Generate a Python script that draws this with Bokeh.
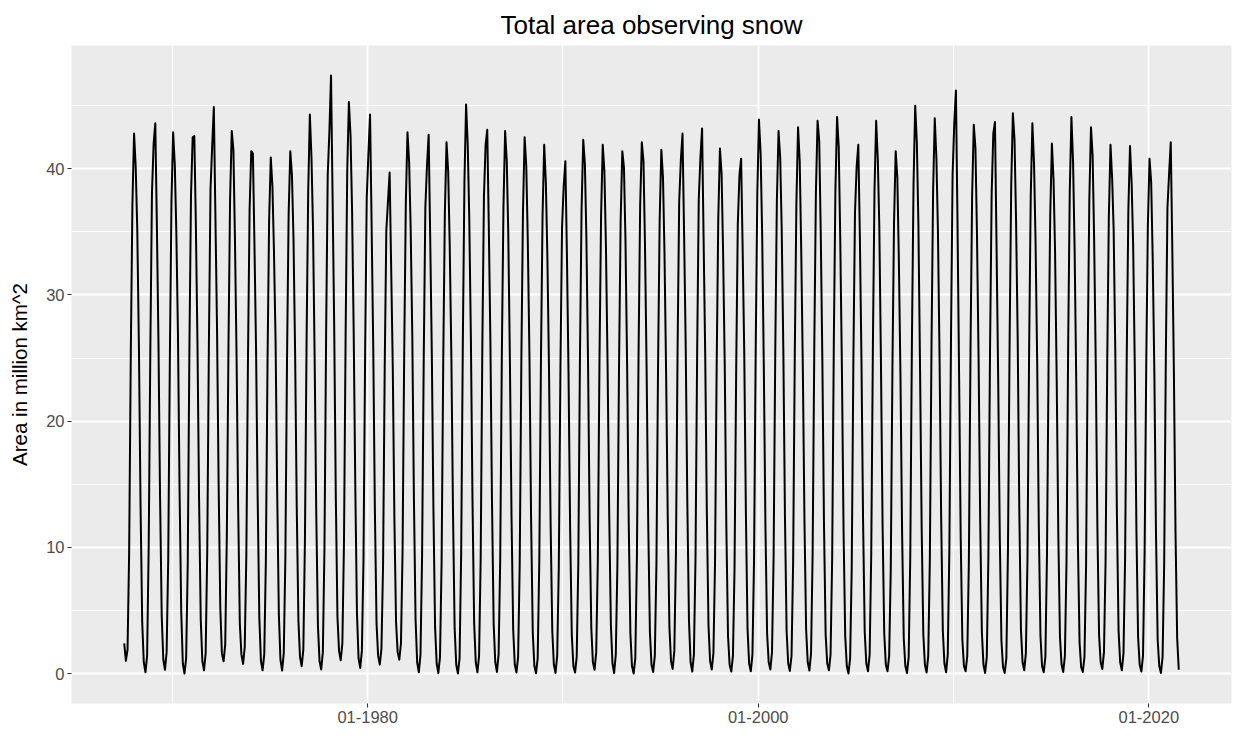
import pandas as pd
from bokeh.plotting import figure
from bokeh.models import ColumnDataSource, Range1d, FixedTicker, DatetimeTickFormatter
from bokeh.embed import file_html
from bokeh.resources import INLINE

# Monthly snow-covered area (million km^2), one entry per calendar year 1967..2021
years = list(range(1967, 2022))

jan = [None, 42.8, 42.0, 42.9, 42.5, 41.8, 43.0, 41.4, 40.9, 41.4, 44.3, 42.9, 45.3, 41.2, 37.4,
       42.9, 40.3, 42.1, 45.1, 41.9, 43.0, 42.5, 41.9, 38.7, 42.3, 41.9, 41.4, 42.1, 41.5, 40.7,
       40.9, 41.6, 39.5, 43.9, 43.0, 43.3, 43.8, 44.1, 40.2, 43.8, 41.4, 45.0, 44.0, 43.6, 43.5,
       42.8, 44.4, 43.6, 42.0, 44.1, 43.3, 41.9, 41.8, 40.8, 39.6]
feb = [None, 40.1, 43.6, 40.3, 42.6, 44.9, 41.5, 41.2, 38.6, 39.5, 40.8, 47.4, 42.6, 44.3, 39.7,
       40.5, 42.7, 39.8, 41.9, 43.1, 40.6, 40.2, 38.9, 40.6, 40.4, 39.8, 40.1, 40.6, 39.3, 42.8,
       43.2, 39.6, 40.8, 41.2, 40.9, 40.6, 42.2, 41.7, 41.9, 40.7, 39.3, 42.1, 40.8, 46.2, 41.6,
       43.7, 42.3, 40.4, 39.1, 40.5, 41.0, 39.2, 38.8, 38.9, 42.1]
mar = [None, 35.2, 36.0, 35.1, 35.8, 36.4, 34.7, 34.2, 33.6, 34.5, 35.3, 38.1, 36.9, 35.6, 32.4,
       35.4, 34.8, 33.9, 36.2, 35.7, 34.9, 34.1, 33.2, 33.5, 34.6, 33.8, 34.4, 34.0, 33.3, 35.0,
       34.6, 33.4, 33.9, 34.8, 35.3, 33.7, 35.1, 34.2, 35.0, 35.4, 32.9, 35.6, 35.2, 36.3, 35.0,
       34.1, 36.1, 34.3, 33.5, 33.6, 34.4, 35.2, 33.9, 32.8, 34.0]
apr = [None, 25.8, 26.4, 26.9, 26.1, 27.3, 25.2, 25.6, 26.3, 25.1, 24.8, 27.6, 27.0, 25.7, 24.2,
       26.8, 25.4, 25.0, 26.5, 26.2, 24.6, 24.9, 24.1, 23.8, 24.7, 24.3, 24.5, 24.0, 23.6, 25.9,
       25.1, 24.4, 25.3, 24.2, 25.6, 24.0, 24.7, 23.9, 24.8, 24.5, 23.4, 24.1, 25.0, 23.7, 24.9,
       23.5, 26.7, 24.6, 23.2, 22.9, 24.3, 25.4, 24.1, 23.6, 23.8]
may = [None, 13.4, 14.1, 14.6, 13.8, 14.9, 13.2, 13.9, 14.4, 13.1, 12.6, 14.2, 14.8, 13.0, 12.3,
       14.0, 13.1, 12.9, 13.7, 13.5, 12.4, 12.2, 11.9, 11.5, 12.1, 12.6, 12.0, 11.8, 12.4, 13.6,
       12.8, 11.6, 12.9, 11.7, 12.5, 12.1, 11.9, 11.4, 12.2, 11.8, 11.2, 11.6, 12.3, 10.8, 12.0,
       10.9, 13.1, 11.7, 11.0, 10.4, 11.5, 12.6, 11.3, 11.1, 11.2]
jun = [None, 4.1, 4.6, 4.9, 4.3, 5.2, 4.0, 4.4, 4.7, 4.2, 3.8, 4.5, 4.8, 4.0, 4.1,
       4.3, 3.7, 3.6, 4.0, 3.9, 3.5, 3.3, 3.4, 3.1, 3.6, 3.9, 3.2, 3.3, 3.7, 4.2,
       3.8, 3.0, 3.6, 3.2, 3.4, 3.5, 3.1, 3.0, 3.3, 3.2, 2.8, 3.1, 3.4, 2.7, 3.3,
       2.6, 3.5, 3.0, 2.9, 2.5, 3.1, 3.4, 2.9, 2.7, 2.8]
jul = [2.4, 0.9, 1.1, 0.8, 1.0, 1.6, 1.5, 1.0, 1.1, 1.3, 1.0, 1.8, 1.2, 1.4, 1.7,
       0.9, 0.8, 0.7, 0.9, 0.9, 0.7, 0.6, 0.7, 0.6, 0.9, 0.8, 0.6, 0.7, 1.0, 0.9,
       1.0, 0.7, 0.8, 0.9, 0.8, 0.9, 0.8, 0.6, 0.8, 0.7, 0.6, 0.7, 0.8, 0.6, 0.7,
       0.5, 0.9, 0.6, 0.7, 0.5, 0.9, 0.9, 0.7, 0.6, 0.3]
aug = [1.0, 0.1, 0.3, 0.0, 0.26, 0.97, 0.77, 0.26, 0.24, 0.58, 0.32, 1.05, 0.45, 0.71, 1.1,
       0.1, 0.05, 0.0, 0.1, 0.13, 0.08, 0.02, 0.05, 0.08, 0.3, 0.05, 0.0, 0.13, 0.37, 0.16,
       0.32, 0.16, 0.18, 0.32, 0.21, 0.24, 0.26, 0.0, 0.18, 0.18, 0.05, 0.08, 0.1, 0.18, 0.05,
       0.05, 0.26, 0.1, 0.13, 0.13, 0.37, 0.26, 0.16, 0.05, None]
sep = [1.9, 1.4, 1.7, 1.2, 1.6, 2.3, 2.1, 1.5, 1.6, 1.9, 1.7, 2.4, 1.8, 2.0, 2.4,
       1.5, 1.3, 1.2, 1.4, 1.5, 1.3, 1.2, 1.4, 1.3, 1.7, 1.5, 1.2, 1.4, 1.8, 1.5,
       1.6, 1.4, 1.5, 1.7, 1.4, 1.6, 1.5, 1.2, 1.5, 1.4, 1.3, 1.4, 1.5, 1.4, 1.3,
       1.2, 1.6, 1.3, 1.4, 1.3, 1.7, 1.6, 1.4, 1.3, None]
oct = [9.6, 10.2, 9.1, 8.7, 9.8, 10.9, 9.4, 8.9, 9.2, 10.6, 9.9, 10.3, 9.0, 8.5, 9.7,
       9.3, 8.8, 9.5, 9.1, 8.9, 8.6, 8.8, 8.4, 8.7, 9.0, 8.5, 9.2, 8.6, 9.4, 9.1,
       8.7, 8.3, 9.0, 9.3, 8.8, 9.6, 9.1, 8.4, 9.5, 8.2, 9.3, 9.0, 9.8, 8.9, 9.2,
       9.7, 9.0, 9.4, 8.8, 8.5, 8.9, 9.1, 9.6, 8.7, None]
nov = [25.4, 26.1, 25.2, 25.7, 26.3, 26.0, 25.1, 24.6, 24.9, 26.5, 26.8, 26.9, 25.5, 24.2, 25.6,
       25.0, 24.8, 26.2, 25.9, 25.3, 24.9, 24.7, 24.3, 25.1, 24.8, 24.5, 25.4, 24.6, 25.8, 25.5,
       24.4, 24.1, 25.7, 25.6, 25.3, 26.0, 26.2, 24.9, 26.1, 24.0, 26.4, 25.9, 26.7, 25.8, 25.7,
       26.3, 25.6, 25.1, 26.0, 25.4, 24.7, 25.2, 24.6, 25.0, None]
dec = [37.2, 38.1, 37.5, 37.9, 38.4, 37.6, 36.8, 35.9, 36.4, 38.2, 39.5, 39.8, 37.7, 35.1, 37.3,
       36.9, 36.5, 38.9, 37.8, 37.0, 36.6, 36.2, 35.4, 36.8, 36.3, 35.9, 37.1, 36.0, 37.4, 37.6,
       36.1, 35.6, 38.0, 37.5, 37.2, 38.1, 38.4, 36.5, 38.3, 35.7, 38.8, 38.2, 39.6, 37.9, 38.0,
       38.7, 37.8, 36.4, 38.1, 37.6, 36.2, 36.7, 35.5, 36.9, None]

x_tick_years = [1980, 2000, 2020]
x_minor_years = [1970, 1990, 2010]
y_ticks = [0, 10, 20, 30, 40]
y_minor = [5, 15, 25, 35, 45]

# Assemble the monthly time series in chronological order
month_cols = [jan, feb, mar, apr, may, jun, jul, aug, sep, oct, nov, dec]
dates, area = [], []
for i, yr in enumerate(years):
    for m, col in enumerate(month_cols, start=1):
        v = col[i]
        if v is not None:
            dates.append(pd.Timestamp(yr, m, 15))
            area.append(v)

source = ColumnDataSource(data=dict(date=dates, area=area))

EPOCH = pd.Timestamp(1970, 1, 1)


def to_ms(ts):
    return (ts - EPOCH) / pd.Timedelta(milliseconds=1)


# ggplot-style 5% expansion of both scales
x0, x1 = to_ms(dates[0]), to_ms(dates[-1])
xpad = 0.05 * (x1 - x0)
y0, y1 = min(area), max(area)
ypad = 0.05 * (y1 - y0)

FONT = "Liberation Sans"

p = figure(
    width=1240, height=736,
    x_axis_type="datetime",
    x_range=Range1d(x0 - xpad, x1 + xpad),
    y_range=Range1d(y0 - ypad, y1 + ypad),
    output_backend="svg", toolbar_location=None,
    min_border_left=71, min_border_right=9, min_border_top=45, min_border_bottom=33,
)

p.background_fill_color = "#EBEBEB"
p.border_fill_color = "white"
p.outline_line_color = None

p.title.text = "Total area observing snow"
p.title.align = "center"
p.title.text_font = FONT
p.title.text_font_size = "26px"
p.title.text_font_style = "normal"
p.title.text_color = "black"
p.title.standoff = 11

p.xaxis.ticker = FixedTicker(
    ticks=[to_ms(pd.Timestamp(y, 1, 1)) for y in x_tick_years],
    minor_ticks=[to_ms(pd.Timestamp(y, 1, 1)) for y in x_minor_years],
)
fmt = "%m-%Y"
p.xaxis.formatter = DatetimeTickFormatter(
    years=fmt, months=fmt, days=fmt, hours=fmt, minutes=fmt, seconds=fmt,
    milliseconds=fmt, microseconds=fmt, hourmin=fmt, minsec=fmt,
)
p.yaxis.ticker = FixedTicker(ticks=y_ticks, minor_ticks=y_minor)
p.yaxis.axis_label = "Area in million km^2"

for ax in (p.xaxis, p.yaxis):
    ax.axis_line_color = None
    ax.major_tick_line_color = "#333333"
    ax.major_tick_line_width = 1.1
    ax.major_tick_out = 4
    ax.major_tick_in = 0
    ax.minor_tick_line_color = None
    ax.major_label_text_font = FONT
    ax.major_label_text_font_size = "16.5px"
    ax.major_label_text_color = "#4D4D4D"
    ax.major_label_standoff = 3
    ax.axis_label_text_font = FONT
    ax.axis_label_text_font_size = "20.5px"
    ax.axis_label_text_font_style = "normal"
    ax.axis_label_text_color = "black"

p.yaxis.axis_label_standoff = 12

for g in (p.xgrid, p.ygrid):
    g.grid_line_color = "white"
    g.grid_line_width = 1.8
    g.minor_grid_line_color = "white"
    g.minor_grid_line_width = 0.9

p.line(x="date", y="area", source=source, line_color="black", line_width=2.0,
       line_join="round")

open("out.html", "w").write(file_html(p, INLINE))
